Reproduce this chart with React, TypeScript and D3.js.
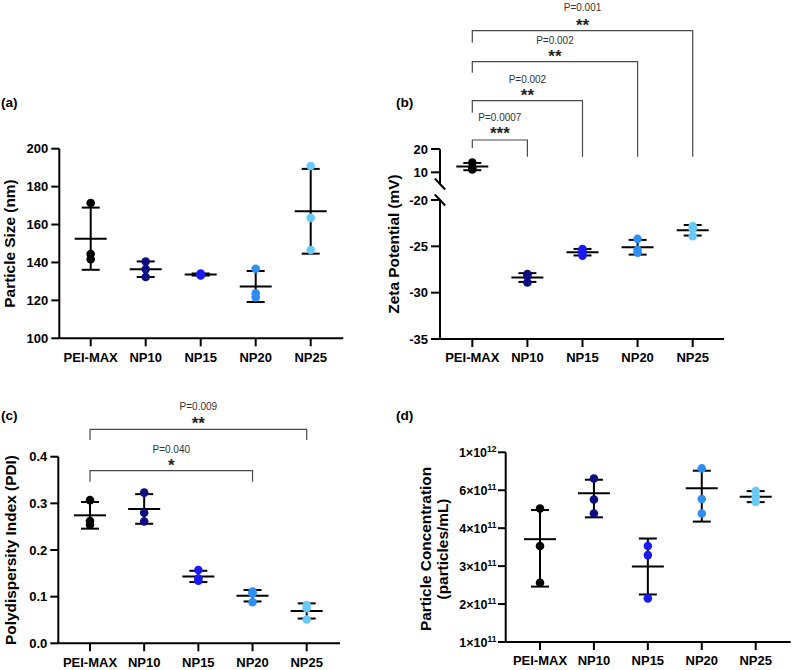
import React from "react";
import * as d3 from "d3";

const groups = ["PEI-MAX", "NP10", "NP15", "NP20", "NP25"];
const groupColors = ["#000000", "#0e0e80", "#1a1af5", "#2f8ef2", "#68c8f6"];

const sizeValues = [
  [171.4, 144.5, 141.7],
  [140.5, 136.5, 132.3],
  [134.2, 133.6, 133.1],
  [136.7, 123.7, 121.6],
  [190.9, 163.5, 146.6],
];
const zetaValues = [
  [14.2, 12.0, 11.2],
  [-28.0, -28.2, -28.9],
  [-25.3, -25.6, -26.0],
  [-24.2, -25.4, -25.7],
  [-22.8, -23.1, -23.9],
];
const pdiValues = [
  [0.307, 0.262, 0.254],
  [0.323, 0.28, 0.261],
  [0.157, 0.139, 0.134],
  [0.111, 0.107, 0.088],
  [0.082, 0.075, 0.051],
];
const concValues = [
  [5.04e11, 3.53e11, 2.56e11],
  [7.24e11, 5.51e11, 4.77e11],
  [3.53e11, 3.29e11, 2.15e11],
  [8.3e11, 5.54e11, 4.77e11],
  [5.96e11, 5.65e11, 5.38e11],
];

const sizeTicks = [100, 120, 140, 160, 180, 200];
const zetaUpperTicks = [10, 20];
const zetaLowerTicks = [-35, -30, -25, -20];
const pdiTicks = [0, 0.1, 0.2, 0.3, 0.4];
const concTicks = [1e11, 2e11, 3e11, 4e11, 6e11, 1e12];

const zetaComparisons = [
  { from: 0, to: 1, p: "P=0.0007", stars: "***" },
  { from: 0, to: 2, p: "P=0.002", stars: "**" },
  { from: 0, to: 3, p: "P=0.002", stars: "**" },
  { from: 0, to: 4, p: "P=0.001", stars: "**" },
];
const pdiComparisons = [
  { from: 0, to: 3, p: "P=0.040", stars: "*" },
  { from: 0, to: 4, p: "P=0.009", stars: "**" },
];

const FONT = "'Liberation Sans', Arial, Helvetica, sans-serif";
const AX = 2;

function Groups({ x, y, values }: any) {
  return (
    <g>
      {values.map((vals: number[], i: number) => {
        const m = d3.mean(vals) as number;
        const s = d3.deviation(vals) as number;
        const cx = x(groups[i]);
        return (
          <g key={i}>
            <line x1={cx} x2={cx} y1={y(m + s)} y2={y(m - s)} stroke="#000" strokeWidth={2} />
            <line x1={cx - 9} x2={cx + 9} y1={y(m + s)} y2={y(m + s)} stroke="#000" strokeWidth={2} />
            <line x1={cx - 9} x2={cx + 9} y1={y(m - s)} y2={y(m - s)} stroke="#000" strokeWidth={2} />
            <line x1={cx - 16} x2={cx + 16} y1={y(m)} y2={y(m)} stroke="#000" strokeWidth={2} />
            {vals.map((v, j) => (
              <circle key={j} cx={cx} cy={y(v)} r={4.3} fill={groupColors[i]} />
            ))}
          </g>
        );
      })}
    </g>
  );
}

function XAxis({ x, y0, left, right }: any) {
  return (
    <g>
      <line x1={left} x2={right} y1={y0} y2={y0} stroke="#000" strokeWidth={AX} />
      {groups.map((g) => (
        <g key={g}>
          <line x1={x(g)} x2={x(g)} y1={y0} y2={y0 + 8} stroke="#000" strokeWidth={AX} />
          <text x={x(g)} y={y0 + 23.3} textAnchor="middle" fontSize={13} fontWeight="bold" fontFamily={FONT}>
            {g}
          </text>
        </g>
      ))}
    </g>
  );
}

function YTicks({ y, ticks, x0, len = 8, gap = 3, fmt = (v: number) => String(v) }: any) {
  return (
    <g>
      {ticks.map((t: number) => (
        <g key={t}>
          <line x1={x0 - len} x2={x0} y1={y(t)} y2={y(t)} stroke="#000" strokeWidth={AX} />
          <text x={x0 - len - gap} y={y(t) + 4.6} textAnchor="end" fontSize={13} fontWeight="bold" fontFamily={FONT}>
            {fmt(t)}
          </text>
        </g>
      ))}
    </g>
  );
}

function Brackets({ x, comps, layout }: any) {
  return (
    <g>
      {comps.map((c: any, i: number) => {
        const L = layout[i];
        const xa = x(groups[c.from]);
        const xb = x(groups[c.to]);
        const cx = (xa + xb) / 2;
        return (
          <g key={i}>
            <path
              d={`M${xa},${L.leftEnd}V${L.h}H${xb}V${L.rightEnd}`}
              fill="none"
              stroke="#4a4a4a"
              strokeWidth={1.2}
            />
            <text x={cx} y={L.pY} textAnchor="middle" fontSize={10} fill="#333" fontFamily={FONT}>
              {c.p}
            </text>
            <text x={cx} y={L.sY} textAnchor="middle" fontSize={17} fontWeight="bold" fill="#222" fontFamily={FONT}>
              {c.stars}
            </text>
          </g>
        );
      })}
    </g>
  );
}

function YTitle({ x, y, text, size = 15.4 }: any) {
  return (
    <text
      transform={`translate(${x},${y}) rotate(-90)`}
      textAnchor="middle"
      fontSize={size}
      fontWeight="bold"
      fontFamily={FONT}
    >
      {text}
    </text>
  );
}

function PanelLabel({ x, y, text }: any) {
  return (
    <text x={x} y={y} fontSize={13.6} fontWeight="bold" fontFamily={FONT}>
      {text}
    </text>
  );
}

export default function App() {
  // Panel (a)
  const xa = d3.scalePoint<string>().domain(groups).range([90.7, 310.7]);
  const ya = d3.scaleLinear().domain([100, 200]).range([338.3, 148.7]);

  // Panel (b) - broken axis
  const xb = d3.scalePoint<string>().domain(groups).range([472.3, 692.7]);
  const ybUp = d3.scaleLinear().domain([5, 20]).range([184, 149]);
  const ybLo = d3.scaleLinear().domain([-35, -20]).range([339, 200]);
  const yb = (v: number) => (v > 0 ? ybUp(v) : ybLo(v));

  // Panel (c)
  const xc = d3.scalePoint<string>().domain(groups).range([90, 306.7]);
  const yc = d3.scaleLinear().domain([0, 0.4]).range([643.3, 456.7]);

  // Panel (d) - segmented axis with evenly spaced labelled ticks
  const xd = d3.scalePoint<string>().domain(groups).range([540, 755.7]);
  const dBottom = 642;
  const dTop = 452.3;
  const yd = d3
    .scaleLinear()
    .domain(concTicks)
    .range(concTicks.map((_, i) => dBottom + ((dTop - dBottom) * i) / (concTicks.length - 1)));

  const zetaLayout = [
    { h: 140, leftEnd: 148.3, rightEnd: 156.7, pY: 120.9, sY: 139.2 },
    { h: 100.7, leftEnd: 112.7, rightEnd: 156.7, pY: 82.9, sY: 100.9 },
    { h: 61.7, leftEnd: 72.7, rightEnd: 156.7, pY: 43.6, sY: 61.6 },
    { h: 30.7, leftEnd: 42.7, rightEnd: 156.7, pY: 10.9, sY: 30.8 },
  ];
  const pdiLayout = [
    { h: 470.7, leftEnd: 481.7, rightEnd: 481.7, pY: 453, sY: 470.5 },
    { h: 429.3, leftEnd: 440, rightEnd: 440, pY: 410.3, sY: 428.8 },
  ];

  return (
    <svg
      width={795}
      height={670}
      style={{ position: "absolute", left: 0, top: 0, background: "#fff" }}
      fontFamily={FONT}
    >
      <rect width={795} height={670} fill="#fff" />

      {/* (a) */}
      <PanelLabel x={1} y={106.5} text="(a)" />
      <YTitle x={15} y={243.5} text="Particle Size (nm)" />
      <line x1={59.3} x2={59.3} y1={ya(200)} y2={ya(100)} stroke="#000" strokeWidth={AX} />
      <YTicks y={ya} ticks={sizeTicks} x0={59.3} len={8} gap={3} />
      <XAxis x={xa} y0={ya(100)} left={59.3} right={343.3} />
      <Groups x={xa} y={ya} values={sizeValues} />

      {/* (b) */}
      <PanelLabel x={396} y={106.5} text="(b)" />
      <YTitle x={399} y={244} text="Zeta Potential (mV)" />
      <line x1={440} x2={440} y1={ybUp(20)} y2={ybUp(5)} stroke="#000" strokeWidth={AX} />
      <line x1={440} x2={440} y1={ybLo(-20)} y2={ybLo(-35)} stroke="#000" strokeWidth={AX} />
      <line x1={434.8} x2={445.2} y1={ybUp(5) - 5.5} y2={ybUp(5) + 5.5} stroke="#000" strokeWidth={AX} />
      <line x1={434.8} x2={445.2} y1={ybLo(-20) - 5.5} y2={ybLo(-20) + 5.5} stroke="#000" strokeWidth={AX} />
      <YTicks y={ybUp} ticks={zetaUpperTicks} x0={440} len={9} gap={3} />
      <YTicks y={ybLo} ticks={zetaLowerTicks} x0={440} len={9} gap={3} />
      <XAxis x={xb} y0={ybLo(-35)} left={440} right={724} />
      <Brackets x={xb} comps={zetaComparisons} layout={zetaLayout} />
      <Groups x={xb} y={yb} values={zetaValues} />

      {/* (c) */}
      <PanelLabel x={1} y={420} text="(c)" />
      <YTitle x={16} y={550} text="Polydispersity Index (PDI)" />
      <line x1={58.3} x2={58.3} y1={yc(0.4)} y2={yc(0)} stroke="#000" strokeWidth={AX} />
      <YTicks y={yc} ticks={pdiTicks} x0={58.3} len={8} gap={3} fmt={(v: number) => d3.format(".1f")(v)} />
      <XAxis x={xc} y0={yc(0)} left={58.3} right={340} />
      <Brackets x={xc} comps={pdiComparisons} layout={pdiLayout} />
      <Groups x={xc} y={yc} values={pdiValues} />

      {/* (d) */}
      <PanelLabel x={396} y={420} text="(d)" />
      <text
        transform={`translate(431,549) rotate(-90)`}
        textAnchor="middle"
        fontSize={15.4}
        fontWeight="bold"
        fontFamily={FONT}
      >
        Particle Concentration
      </text>
      <text
        transform={`translate(447.5,549) rotate(-90)`}
        textAnchor="middle"
        fontSize={15.4}
        fontWeight="bold"
        fontFamily={FONT}
      >
        (particles/mL)
      </text>
      <line x1={505.7} x2={505.7} y1={yd(1e12)} y2={yd(1e11)} stroke="#000" strokeWidth={AX} />
      {concTicks.map((t) => {
        const e = Math.floor(Math.log10(t) + 1e-9);
        const m = Math.round(t / Math.pow(10, e));
        return (
          <g key={t}>
            <line x1={498} x2={505.7} y1={yd(t)} y2={yd(t)} stroke="#000" strokeWidth={AX} />
            <text x={496.5} y={yd(t) + 4.6} textAnchor="end" fontSize={12.5} fontWeight="bold" fontFamily={FONT}>
              <tspan>{`${m}×10`}</tspan>
              <tspan dy={-5} fontSize={8.5}>{String(e)}</tspan>
            </text>
          </g>
        );
      })}
      <XAxis x={xd} y0={yd(1e11)} left={505.7} right={790.7} />
      <Groups x={xd} y={yd} values={concValues} />
    </svg>
  );
}
